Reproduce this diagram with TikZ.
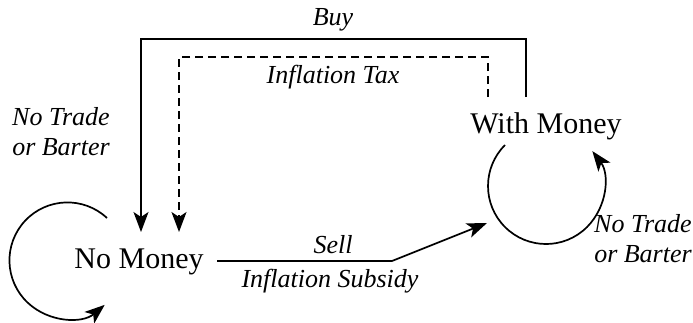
\documentclass[tikz,border=0pt]{standalone}
\usepackage{fontspec}
\setmainfont{Liberation Serif}
\usetikzlibrary{arrows.meta}

\tikzset{
  state/.style={anchor=base,inner sep=0pt,font=\fontsize{30}{36}\selectfont},
  lbl/.style={anchor=base,inner sep=0pt,align=center,font=\fontsize{26}{30}\selectfont\itshape},
  flow/.style={line width=1.7pt,-{Stealth[length=20pt,width=15pt,inset=5pt]}},
}

\begin{document}
\begin{tikzpicture}[x=1pt, y=-1pt, line cap=butt, line join=miter]

  %% ════ states ════
  \node[state] (nomoney)   at (139,268) {No Money};
  \node[state] (withmoney) at (546,133) {With Money};

  %% ════ end points of the connectors ════
  \coordinate (buyS)  at (526,97);
  \coordinate (buyE)  at (141,232);
  \coordinate (taxS)  at (488,97);
  \coordinate (taxE)  at (179,232);
  \coordinate (sellS) at (217,261);
  \coordinate (sellK) at (392,261);
  \coordinate (sellE) at (487,223);
  \coordinate (nmloop) at (107,218);
  \coordinate (wmloop) at (505,145);

  %% ════ connectors ════
  \draw[flow] (buyS) -- (526,39) -| (buyE);
  \draw[flow, dash pattern=on 8pt off 5pt] (taxS) -- (488,57) -| (taxE);
  \draw[flow] (sellS) -- (sellK) -- (sellE);

  %% loops (y runs downward, so the angles are mirrored)
  \draw[flow] (nmloop) arc[start angle=-47, end angle=-310, radius=58];
  \draw[flow] (wmloop) arc[start angle=-135, end angle=-397, radius=58];

  %% ════ labels ════
  \node[lbl] (buy)   at (333,25)  {Buy};
  \node[lbl] (tax)   at (333,83)  {Inflation Tax};
  \node[lbl] (sell)  at (333,253) {Sell};
  \node[lbl] (subs)  at (330,287) {Inflation Subsidy};
  \node[lbl] (nmnt)  at (61,155)  {No Trade\\or Barter};
  \node[lbl] (wmnt)  at (643,262) {No Trade\\or Barter};

  % fix the canvas
  \pgfresetboundingbox
  \path[use as bounding box] (0,0) rectangle (693,322);
\end{tikzpicture}
\end{document}
